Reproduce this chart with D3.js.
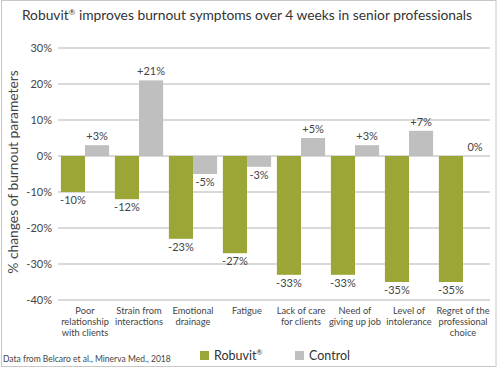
<!DOCTYPE html>
<html><head><meta charset="utf-8">
<script src="https://cdn.jsdelivr.net/npm/d3@7"></script>
<style>body{margin:0;background:#fff}svg{display:block;font-family:Lato,"Open Sans",sans-serif}</style>
</head><body><svg id="c" width="498" height="369"></svg>
<script>
const categories = [
  ["Poor","relationship","with clients"],
  ["Strain from","interactions"],
  ["Emotional","drainage"],
  ["Fatigue"],
  ["Lack of care","for clients"],
  ["Need of","giving up job"],
  ["Level of","intolerance"],
  ["Regret of the","professional","choice"]
];
const robuvit = [-10, -12, -23, -27, -33, -33, -35, -35];
const control = [3, 21, -5, -3, 5, 3, 7, 0];
const robuvitLabels = ["-10%","-12%","-23%","-27%","-33%","-33%","-35%","-35%"];
const controlLabels = ["+3%","+21%","-5%","-3%","+5%","+3%","+7%","0%"];
const yTicks = [30, 20, 10, 0, -10, -20, -30, -40];
const seriesNames = ["Robuvit", "Control"];
const colors = ["#9ca636", "#bfbfbf"];

const svg = d3.select("#c");
svg.append("rect").attr("x",1.5).attr("y",0.5).attr("width",494.5).attr("height",366).attr("fill","none").attr("stroke","#c8c8c8");

const x = d3.scaleBand().domain(d3.range(categories.length)).range([58, 490]);
const inner = d3.scaleBand().domain([0,1]).range([0, x.bandwidth()]).paddingOuter(0.12).paddingInner(0);
const y = d3.scaleLinear().domain([-40, 30]).range([300, 48]);

const title = svg.append("text").attr("x", 247).attr("y", 20).attr("text-anchor","middle")
  .attr("font-size", 13.8).attr("fill","#333");
title.append("tspan").text("Robuvit");
title.append("tspan").attr("font-size", 8).attr("dy", -5).text("®");
title.append("tspan").attr("dy", 5).text(" improves burnout symptoms over 4 weeks in senior professionals");

// grid
svg.append("g").selectAll("line").data(yTicks).join("line")
  .attr("x1", 58).attr("x2", 490).attr("y1", d => y(d)).attr("y2", d => y(d))
  .attr("stroke", "#b3b3b3").attr("stroke-width", 1);
svg.append("g").selectAll("text").data(yTicks).join("text")
  .attr("x", 52).attr("y", d => y(d) + 4).attr("text-anchor","end")
  .attr("font-size", 11).attr("fill","#444").text(d => d + "%");

svg.append("text").attr("transform","translate(18,172) rotate(-90)").attr("text-anchor","middle")
  .attr("font-size", 13.8).attr("fill","#444").text("% changes of burnout parameters");

const series = [robuvit, control];
const labels = [robuvitLabels, controlLabels];
series.forEach((vals, s) => {
  const g = svg.append("g");
  g.selectAll("rect").data(vals).join("rect")
    .attr("x", (d,i) => x(i) + inner(s))
    .attr("width", inner.bandwidth())
    .attr("y", d => y(Math.max(0,d)))
    .attr("height", d => Math.abs(y(d) - y(0)))
    .attr("fill", colors[s]);
  g.selectAll("text").data(vals).join("text")
    .attr("x", (d,i) => x(i) + inner(s) + inner.bandwidth()/2)
    .attr("y", d => d >= 0 ? y(d) - 5 : y(d) + 12)
    .attr("text-anchor","middle").attr("font-size", 11).attr("fill","#444")
    .text((d,i) => labels[s][i]);
});

// category labels
const cg = svg.append("g");
categories.forEach((lines, i) => {
  const t = cg.append("text").attr("x", x(i) + x.bandwidth()/2).attr("y", 314)
    .attr("text-anchor","middle").attr("font-size", 9.3).attr("fill","#444");
  lines.forEach((l, k) => t.append("tspan").attr("x", x(i) + x.bandwidth()/2).attr("dy", k ? 11 : 0).text(l));
});

// legend
const leg = [[200, 0], [295, 1]];
leg.forEach(([lx, s]) => {
  svg.append("rect").attr("x", lx).attr("y", 351).attr("width", 9).attr("height", 9).attr("fill", colors[s]);
  const t = svg.append("text").attr("x", lx + 14).attr("y", 360).attr("font-size", 12.5).attr("fill","#333").text(seriesNames[s]);
  if (s === 0) t.append("tspan").attr("font-size", 7).attr("dy", -5).text("®");
});

svg.append("text").attr("x", 3).attr("y", 362).attr("font-size", 8.5).attr("fill","#444")
  .text("Data from Belcaro et al., Minerva Med., 2018");
</script></body></html>
